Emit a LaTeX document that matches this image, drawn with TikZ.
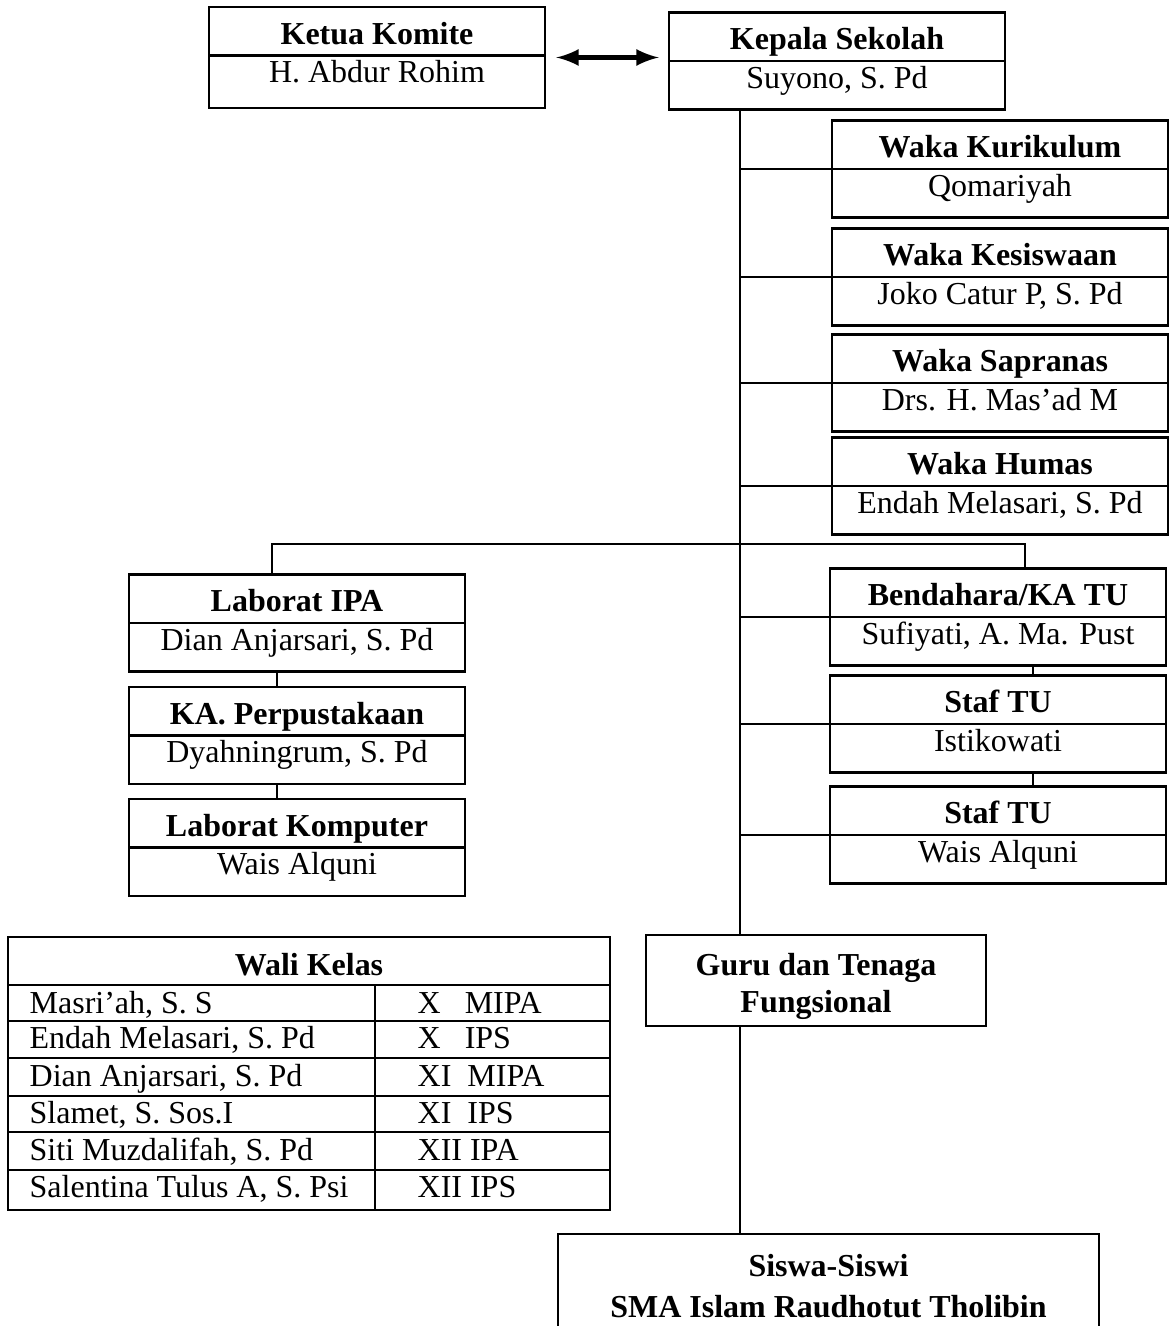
\documentclass[tikz,border=0pt]{standalone}
\usepackage{fontspec}
\setmainfont{Liberation Serif}
\usetikzlibrary{shapes, positioning, arrows}
\newcommand{\chartfont}{\fontsize{9.1}{10.5}\selectfont}
\newcommand{\hd}[1]{\rule[-0.1cm]{0pt}{0.46cm}\textbf{#1}}
\newcommand{\nm}[1]{\rule[-0.2cm]{0pt}{0.46cm}#1}
\tikzstyle{unit} = [rectangle split, rectangle split parts=2, draw,
    line width=0.7pt, minimum width=3.36cm, inner xsep=2pt, inner ysep=0pt]
\tikzstyle{block} = [rectangle, draw, line width=0.7pt, align=center,
    inner ysep=0pt, font=\chartfont\bfseries]
\tikzstyle{line} = [draw, line width=0.7pt]
\tikzstyle{cell} = [inner sep=0pt, anchor=base west]

\begin{document}
\begin{tikzpicture}[font=\chartfont]
\useasboundingbox (0,0) rectangle (11.72,-13.26);
% pimpinan
\node [unit] (kepala) at (8.37,-0.61) {\hd{Kepala Sekolah}\nodepart{two}\nm{Suyono, S. Pd}};
\node [unit, left of=kepala, node distance=4.6cm, yshift=0.035cm] (komite) {\hd{Ketua Komite}\nodepart{two}\rule[-0.24cm]{0pt}{0.50cm}H. Abdur Rohim};
% wakil kepala
\node [unit] (kurikulum) at (10.00,-1.69) {\hd{Waka Kurikulum}\nodepart{two}\nm{Qomariyah}};
\node [unit, below of=kurikulum, node distance=1.08cm] (kesiswaan) {\hd{Waka Kesiswaan}\nodepart{two}\nm{Joko Catur P, S. Pd}};
\node [unit, below of=kesiswaan, node distance=1.06cm] (sapranas) {\hd{Waka Sapranas}\nodepart{two}\nm{Drs. H. Mas’ad M}};
\node [unit, below of=sapranas, node distance=1.03cm] (humas) {\hd{Waka Humas}\nodepart{two}\nm{Endah Melasari, S. Pd}};
% tata usaha
\node [unit] (bendahara) at (9.98,-6.17) {\hd{Bendahara/KA TU}\nodepart{two}\nm{Sufiyati, A. Ma. Pust}};
\node [unit, below of=bendahara, node distance=1.07cm] (stafa) {\hd{Staf TU}\nodepart{two}\nm{Istikowati}};
\node [unit, below of=stafa, node distance=1.11cm] (stafb) {\hd{Staf TU}\nodepart{two}\nm{Wais Alquni}};
% laborat dan perpustakaan
\node [unit] (labipa) at (2.97,-6.23) {\hd{Laborat IPA}\nodepart{two}\nm{Dian Anjarsari, S. Pd}};
\node [unit, below of=labipa, node distance=1.125cm] (perpus) {\hd{KA. Perpustakaan}\nodepart{two}\nm{Dyahningrum, S. Pd}};
\node [unit, below of=perpus, node distance=1.12cm] (labkom) {\hd{Laborat Komputer}\nodepart{two}\nm{Wais Alquni}};
% guru dan siswa
\node [block, minimum width=3.40cm, minimum height=0.91cm] (guru) at (8.16,-9.805) {\rule{0pt}{0.34cm}Guru dan Tenaga\\Fungsional};
\node [block, minimum width=5.41cm, minimum height=1.03cm, anchor=north] (siswa) at (8.285,-12.33) {Siswa-Siswi\\[0.04cm]SMA Islam Raudhotut Tholibin};
% wali kelas
\draw [line] (0.08,-9.37) rectangle (6.10,-12.10);
\draw [line] (0.08,-9.85) -- (6.10,-9.85);
\draw [line] (0.08,-10.21) -- (6.10,-10.21);
\draw [line] (0.08,-10.58) -- (6.10,-10.58);
\draw [line] (0.08,-10.96) -- (6.10,-10.96);
\draw [line] (0.08,-11.32) -- (6.10,-11.32);
\draw [line] (0.08,-11.70) -- (6.10,-11.70);
\draw [line] (3.75,-9.85) -- (3.75,-12.10);
\node (walikelas) at (3.09,-9.65) {\textbf{Wali Kelas}};
\node [cell] (wali1) at (0.29,-10.13) {Masri’ah, S. S};
\node [cell] (wali2) at (0.29,-10.48) {Endah Melasari, S. Pd};
\node [cell] (wali3) at (0.29,-10.86) {Dian Anjarsari, S. Pd};
\node [cell] (wali4) at (0.29,-11.23) {Slamet, S. Sos.I};
\node [cell] (wali5) at (0.29,-11.60) {Siti Muzdalifah, S. Pd};
\node [cell] (wali6) at (0.29,-11.97) {Salentina Tulus A, S. Psi};
\node [cell] (kelas1) at (4.17,-10.13) {X\ \ \ MIPA};
\node [cell] (kelas2) at (4.17,-10.48) {X\ \ \ IPS};
\node [cell] (kelas3) at (4.17,-10.86) {XI\ \ MIPA};
\node [cell] (kelas4) at (4.17,-11.23) {XI\ \ IPS};
\node [cell] (kelas5) at (4.17,-11.60) {XII IPA};
\node [cell] (kelas6) at (4.17,-11.97) {XII IPS};

\coordinate (trunk) at (7.40,0);
\coordinate (cabangkiri) at (2.72,-5.44);
\coordinate (cabangkanan) at (10.25,-5.44);

  \path [line, <->, >=latex, line width=1.2pt, shorten <=0.1cm, shorten >=0.09cm] (komite.east) -- (komite.east -| kepala.west);
  \path [line] (trunk |- kepala.south) -- (trunk |- guru.north);
  \path [line] (trunk |- kurikulum.text split west) -- (kurikulum.text split west);
  \path [line] (trunk |- kesiswaan.text split west) -- (kesiswaan.text split west);
  \path [line] (trunk |- sapranas.text split west) -- (sapranas.text split west);
  \path [line] (trunk |- humas.text split west) -- (humas.text split west);
  \path [line] (trunk |- bendahara.text split west) -- (bendahara.text split west);
  \path [line] (trunk |- stafa.text split west) -- (stafa.text split west);
  \path [line] (trunk |- stafb.text split west) -- (stafb.text split west);
  \path [line] (cabangkiri |- labipa.north) -- (cabangkiri) -- (cabangkanan) -- (cabangkanan |- bendahara.north);
  \path [line] ([xshift=-0.2cm]labipa.south) -- ([xshift=-0.2cm]perpus.north);
  \path [line] ([xshift=-0.2cm]perpus.south) -- ([xshift=-0.2cm]labkom.north);
  \path [line] ([xshift=0.35cm]bendahara.south) -- ([xshift=0.35cm]stafa.north);
  \path [line] ([xshift=0.35cm]stafa.south) -- ([xshift=0.35cm]stafb.north);
  \path [line] (trunk |- guru.south) -- (trunk |- siswa.north);

\end{tikzpicture}
\end{document}
